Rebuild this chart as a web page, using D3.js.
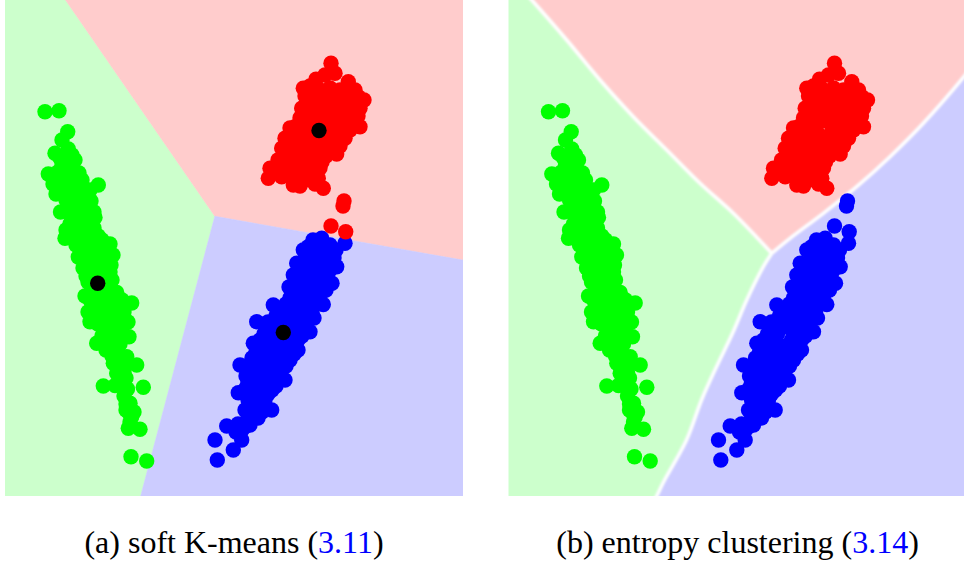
<!DOCTYPE html>
<html>
<head>
<meta charset="utf-8">
<script src="https://cdn.jsdelivr.net/npm/d3@7"></script>
<style>
  html, body { margin: 0; padding: 0; background: #ffffff; }
  svg { display: block; }
  .caption { font-family: "Liberation Serif", "Times New Roman", "DejaVu Serif", serif; }
</style>
</head>
<body>
<script>
// ---- Data (feature-space coordinates) ----
// Cluster 1 (green): elongated cluster on the left
const greenPoints = [
  [45,111.7],[59,110.7],[67.7,131.7],[68.3,149],[55,153.3],[75,160],[48.3,174],[79,173],
  [53,184],[98.3,185],[56,194],[91,201],[60.5,212],[95,217.5],[66,230],[98.3,236],
  [65,238.3],[110,244],[113,255],[78.3,257],[83,268],[111,265],[85,296],[88,312],
  [131.7,303],[116.7,292.5],[90,321.7],[128,322],[129,336.7],[96.7,343.3],[115,350],
  [136.7,365],[116.7,373.3],[103.3,386],[115,385.5],[143.3,387.3],[127.5,389],[130,403.3],
  [128.3,411.7],[131.7,416.7],[128.3,428.3],[140,429.3],[131,456.7],[146.7,461],
  [126.7,356.7],[113.3,363.3],
  [62,165],[70,167],[62,180],[72,182],[82,180],[66,192],[76,192],[86,195],
  [70,205],[80,205],[88,208],[72,218],[82,220],[90,222],[76,230],[86,232],[94,228],
  [76,245],[86,245],[96,246],[104,250],[88,258],[98,258],[106,260],[92,272],[102,270],
  [88,282],[106,282],[112,280],[96,295],[106,296],[96,306],[106,306],[118,308],
  [100,318],[110,318],[120,318],[104,330],[114,330],[122,332],[108,342],[120,344],
  [120,358],[122,368],[120,378],[126,378],[124,396],[130,422],
  [62,140],[60,158],[72,155],[58,172],[66,174],[62,186],[80,188],[90,190],
  [66,200],[76,200],[84,200],[68,212],[78,212],[86,214],[94,212],[70,224],[80,226],[88,226],
  [72,238],[82,238],[90,238],[102,240],[82,252],[92,252],[100,252],[108,254],
  [86,264],[96,264],[104,266],[86,276],[96,278],[102,276],[110,272],[92,290],[100,288],[110,290],
  [90,300],[100,300],[112,300],[122,300],[94,312],[104,312],[114,312],[124,312],
  [98,324],[108,324],[118,326],[102,336],[110,336],[118,338],[106,350],[112,356],
  [118,362],[126,364],[124,372],[122,384],[126,404],[126,410],[134,412]
];

// Cluster 2 (red): compact cluster at the top right
const redPoints = [
  [331,63.3],[335,73.3],[316,79.3],[348.3,81.7],[303.3,88.3],[358.3,96.7],[364,100],
  [301.7,108.3],[360,108.3],[360,126.7],[295,126.7],[345,138.3],[285,138.3],[281.7,148.3],
  [336.7,154],[270,168.3],[268.3,178.3],[281.7,176.7],[293.3,185],[318.3,178.3],
  [323.3,188.3],[278,160],[310,170],
  [320,90],[330,88],[340,90],[312,100],[322,100],[332,100],[342,100],[352,102],
  [310,112],[320,112],[330,112],[340,112],[350,112],[305,122],[315,122],[325,122],
  [335,122],[345,124],[352,120],[295,134],[305,134],[315,134],[325,136],[335,134],
  [290,146],[300,146],[310,146],[320,146],[330,146],[288,158],[298,158],[308,158],
  [318,158],[326,156],[290,170],[300,170],[320,168],[305,180],
  [325,75],[310,86],[345,92],[355,90],[305,96],[315,94],[348,94],
  [306,106],[316,106],[326,106],[336,106],[346,106],[355,108],[300,118],[358,116],
  [290,128],[300,128],[310,128],[330,128],[340,128],[350,130],
  [292,140],[302,140],[312,140],[322,140],[332,140],[340,146],
  [285,152],[295,152],[305,152],[315,152],[325,150],
  [282,164],[292,164],[302,164],[312,164],[322,162],[276,172],[295,178],[310,178],[315,184],[300,186]
];

// Points lying between the red and blue clusters (assigned differently by the two methods)
const bridgePoints = [[344,201],[343,206],[331,226],[345.7,231.7]];

// Cluster 3 (blue): elongated cluster at the bottom right
const bluePoints = [
  [345,243.3],[321.7,238.3],[308.3,246.7],[303.3,250],[336.7,266.7],[332,283.3],
  [296.7,263.3],[293.3,275],[289,287],[323.3,304.5],[273.3,305],[256.7,321.7],[310,331.7],
  [253.3,343.3],[240,365],[285,380],[238.3,392.7],[271.7,410],[245,410],[265,400],
  [250,425],[226.7,426],[241.7,440],[215,440],[233.3,450],[217.3,460],[330,245],[313,240],
  [316,252],[326,252],[336,250],[306,262],[316,262],[326,262],[302,274],[312,274],[322,274],
  [298,286],[308,286],[318,286],[326,290],[290,298],[300,298],[310,298],[318,298],
  [282,310],[292,310],[302,310],[312,312],[268,322],[278,322],[288,322],[298,322],[306,322],
  [264,334],[274,334],[294,334],[302,336],[262,346],[272,346],[282,346],[292,346],[298,350],
  [252,358],[262,358],[272,358],[282,358],[290,360],[250,370],[260,370],[270,370],[280,370],
  [248,382],[258,382],[268,382],[276,386],[250,394],[258,394],[268,394],[255,406],
  [258,418],[248,418],[236,432],[242,430],
  [318,246],[310,256],[322,256],[334,258],[300,268],[310,268],[320,268],[330,270],
  [298,280],[306,280],[316,280],[326,280],[294,292],[304,292],[314,292],[322,292],
  [286,304],[296,304],[306,304],[314,304],[276,316],[286,316],[296,316],[306,316],[314,318],
  [266,328],[276,328],[286,328],[298,328],[306,328],[260,340],[270,340],[288,340],[298,340],
  [256,352],[266,352],[276,352],[286,352],[294,354],[250,364],[258,364],[268,364],[278,364],[286,366],
  [246,376],[256,376],[266,376],[276,376],[246,388],[254,388],[262,388],[272,390],
  [248,400],[256,400],[252,412],[262,412],[238,424],[246,426]
];

// Soft K-means cluster centres (green, red, blue)
const centroids = [[97.7,283.3],[319,130.5],[283.3,332.5]];

// Entropy-clustering decision boundaries
const greenRedBoundary = [[20,-9],[28.2,0],[63.2,40],[96.5,80],[129.8,116.7],[163.2,150],[196.5,183.3],[229.8,213.3],[268.2,253.3]];
const redBlueBoundary  = [[268.2,253.3],[286.5,238.3],[319.8,213.3],[353.2,186.7],[386.5,156.7],[419.8,123.3],[460.5,76.7],[472,62]];
const greenBlueBoundary = [[268.2,253.3],[259.8,266.7],[243.2,300],[229,333.3],[213,366.7],[198,400],[183,440],[160,482],[153.2,496],[148,506]];

// Panel captions
const captions = [
  { label: "(a) soft K-means (", ref: "3.11", tail: ")" },
  { label: "(b) entropy clustering (", ref: "3.14", tail: ")" }
];

// ---- Styles ----
const pointColor = { green: "#00ff00", red: "#ff0000", blue: "#0000ff" };
const regionColor = { green: "#ccffcc", red: "#ffcccc", blue: "#ccccff" };

// ---- Layout ----
const W = 964, H = 564;
const panelW = 458, panelH = 496;
const panelX = [5, 508.5];
const domainX = [5, 463], domainY = [0, 496];

const x = d3.scaleLinear().domain(domainX).range([0, panelW]);
const y = d3.scaleLinear().domain(domainY).range([0, panelH]);

const svg = d3.select("body").append("svg")
  .attr("width", W).attr("height", H)
  .attr("viewBox", `0 0 ${W} ${H}`);

const defs = svg.append("defs");
defs.append("clipPath").attr("id", "panel-clip")
  .append("rect").attr("width", panelW).attr("height", panelH);
defs.append("filter").attr("id", "soft-edge")
  .attr("x", "-5%").attr("y", "-5%").attr("width", "110%").attr("height", "110%")
  .append("feGaussianBlur").attr("stdDeviation", 0.9);
defs.append("filter").attr("id", "glow")
  .attr("x", "-10%").attr("y", "-10%").attr("width", "120%").attr("height", "120%")
  .append("feGaussianBlur").attr("stdDeviation", 1.3);

const R = 7.7;

function drawPoints(g, pts, color) {
  g.append("g").selectAll("circle").data(pts).join("circle")
    .attr("cx", d => x(d[0])).attr("cy", d => y(d[1])).attr("r", R)
    .attr("fill", color);
}

// ---- Panel (a): soft K-means, Voronoi regions of the centres ----
{
  const g = svg.append("g").attr("transform", `translate(${panelX[0]},0)`)
    .attr("clip-path", "url(#panel-clip)");
  const names = ["green", "red", "blue"];
  const delaunay = d3.Delaunay.from(centroids, d => x(d[0]), d => y(d[1]));
  const vor = delaunay.voronoi([0, 0, panelW, panelH]);
  g.append("g").selectAll("path").data(centroids).join("path")
    .attr("d", (d, i) => vor.renderCell(i))
    .attr("fill", (d, i) => regionColor[names[i]])
    .attr("stroke", (d, i) => regionColor[names[i]])
    .attr("stroke-width", 0.5);

  drawPoints(g, greenPoints, pointColor.green);
  drawPoints(g, bluePoints, pointColor.blue);
  drawPoints(g, redPoints, pointColor.red);
  drawPoints(g, bridgePoints, pointColor.red);

  g.append("g").selectAll("circle").data(centroids).join("circle")
    .attr("cx", d => x(d[0])).attr("cy", d => y(d[1])).attr("r", R)
    .attr("fill", "#000000");
}

// ---- Panel (b): entropy clustering, curved boundaries ----
{
  const g = svg.append("g").attr("transform", `translate(${panelX[1]},0)`)
    .attr("clip-path", "url(#panel-clip)");
  const polyLine = d3.line().x(d => x(d[0])).y(d => y(d[1]));
  const curveLine = d3.line().x(d => x(d[0])).y(d => y(d[1])).curve(d3.curveCatmullRom);
  const [x0, x1] = domainX, [y0, y1] = domainY;
  const pad = 12;

  const greenPoly = [[x0 - pad, y0 - pad], ...greenRedBoundary, ...greenBlueBoundary.slice(1), [x0 - pad, y1 + pad]];
  const redPoly = [...greenRedBoundary, ...redBlueBoundary.slice(1), [x1 + pad, y0 - pad]];

  const bg = g.append("g").attr("filter", "url(#soft-edge)");
  bg.append("rect").attr("x", -pad).attr("y", -pad)
    .attr("width", panelW + 2 * pad).attr("height", panelH + 2 * pad)
    .attr("fill", regionColor.blue);
  [[greenPoly, "green"], [redPoly, "red"]].forEach(([poly, name]) => {
    bg.append("path").attr("d", polyLine(poly) + "Z").attr("fill", regionColor[name]);
  });

  const edges = g.append("g").attr("filter", "url(#glow)")
    .attr("fill", "none").attr("stroke", "#ffffff").attr("stroke-width", 3.6)
    .attr("stroke-linejoin", "round");
  [greenRedBoundary, redBlueBoundary, greenBlueBoundary].forEach(b => {
    edges.append("path").attr("d", curveLine(b));
  });

  drawPoints(g, greenPoints, pointColor.green);
  drawPoints(g, redPoints, pointColor.red);
  drawPoints(g, bluePoints, pointColor.blue);
  drawPoints(g, bridgePoints, pointColor.blue);
}

// ---- Captions ----
captions.forEach((c, i) => {
  const t = svg.append("text")
    .attr("class", "caption")
    .attr("x", panelX[i] + panelW / 2).attr("y", 553)
    .attr("text-anchor", "middle")
    .attr("font-size", 32).attr("fill", "#000000");
  t.append("tspan").text(c.label);
  t.append("tspan").attr("fill", "#0000ff").text(c.ref);
  t.append("tspan").text(c.tail);
});
</script>
</body>
</html>
